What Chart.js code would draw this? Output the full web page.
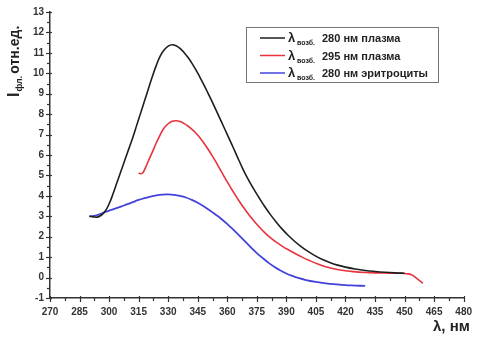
<!DOCTYPE html>
<html>
<head>
<meta charset="utf-8">
<script src="https://cdn.jsdelivr.net/npm/chart.js@4"></script>
<style>
  html, body { margin: 0; padding: 0; background: #fff; }
  #wrap { width: 480px; height: 337px; }
</style>
</head>
<body>
<div id="wrap"><canvas id="chart" width="480" height="337"></canvas></div>
<script>
// emission spectra, wavelength (nm) vs intensity (rel. units)
const seriesLabels = ['280 нм плазма', '295 нм плазма', '280 нм эритроциты'];
const seriesColors = ['#1e1e1e', '#e8323c', '#4343dc'];

const blackX = [290, 292, 294, 296, 298, 300, 302, 304, 306, 308, 310, 312, 314, 316, 318, 320, 322, 324, 326, 328, 330, 332, 334, 336, 338, 340, 342, 344, 346, 348, 350, 352, 354, 356, 358, 360, 362, 364, 366, 368, 370, 373, 376, 379, 382, 385, 388, 391, 394, 397, 400, 404, 408, 412, 416, 420, 425, 430, 435, 440, 445, 450];
const blackY = [3.0, 2.97, 2.96, 3.05, 3.25, 3.6, 4.1, 4.65, 5.2, 5.75, 6.3, 6.85, 7.45, 8.05, 8.65, 9.25, 9.85, 10.4, 10.85, 11.15, 11.33, 11.4, 11.35, 11.22, 11.02, 10.78, 10.5, 10.18, 9.83, 9.46, 9.07, 8.67, 8.26, 7.84, 7.42, 7.0, 6.58, 6.15, 5.72, 5.3, 4.92, 4.4, 3.93, 3.48, 3.07, 2.7, 2.36, 2.06, 1.79, 1.55, 1.34, 1.1, 0.9, 0.74, 0.61, 0.51, 0.42, 0.35, 0.3, 0.26, 0.23, 0.21];

const redX = [315, 316, 317, 318, 319, 320, 322, 324, 326, 328, 330, 332, 334, 336, 338, 340, 342, 344, 346, 348, 350, 352, 354, 356, 358, 360, 362, 364, 366, 368, 370, 373, 376, 379, 382, 385, 388, 391, 394, 398, 402, 406, 410, 414, 418, 424, 430, 436, 442, 448, 451, 453.5, 456, 459.3];
const redY = [5.12, 5.08, 5.12, 5.28, 5.5, 5.72, 6.15, 6.6, 7.0, 7.33, 7.53, 7.65, 7.68, 7.64, 7.55, 7.42, 7.26, 7.08, 6.86, 6.6, 6.32, 6.02, 5.7, 5.36, 5.02, 4.68, 4.36, 4.05, 3.75, 3.47, 3.2, 2.83, 2.5, 2.2, 1.94, 1.72, 1.53, 1.36, 1.2, 1.0, 0.82, 0.66, 0.53, 0.43, 0.36, 0.29, 0.25, 0.23, 0.22, 0.21, 0.19, 0.14, -0.03, -0.28];

const blueX = [290, 292, 294, 296, 298, 300, 303, 306, 309, 312, 315, 318, 321, 324, 327, 330, 333, 336, 339, 342, 345, 348, 351, 354, 357, 360, 363, 366, 369, 372, 375, 378, 381, 384, 387, 390, 393, 396, 400, 405, 410, 415, 420, 425, 430];
const blueY = [3.0, 3.02, 3.06, 3.13, 3.21, 3.28, 3.37, 3.47, 3.58, 3.69, 3.8, 3.89, 3.96, 4.02, 4.06, 4.07, 4.05, 4.0, 3.92, 3.8, 3.66, 3.49, 3.3, 3.09, 2.87, 2.62, 2.35, 2.07, 1.77, 1.48, 1.2, 0.95, 0.72, 0.52, 0.35, 0.2, 0.08, -0.02, -0.12, -0.21, -0.28, -0.33, -0.37, -0.39, -0.41];

const xMin = 270, xMax = 480, xStep = 15;
const yMin = -1, yMax = 13, yStep = 1;

const toPoints = (xs, ys) => xs.map((x, i) => ({ x: x, y: ys[i] }));

const FONT = '"Liberation Sans", Arial, sans-serif';
const axisColor = '#333';

// minor/major ticks, axis titles and legend with subscripts
const decorPlugin = {
    id: 'decor',
    afterDraw(chart) {
        const ctx = chart.ctx;
        const xs = chart.scales.x, ys = chart.scales.y;
        const area = chart.chartArea;
        ctx.save();
        ctx.strokeStyle = axisColor;
        ctx.lineWidth = 1.2;
        // x ticks
        for (let v = xMin; v <= xMax + 0.01; v += xStep / 2) {
            const px = Math.round(xs.getPixelForValue(v)) + 0.5;
            const major = Math.abs((v - xMin) % xStep) < 0.01;
            ctx.beginPath();
            ctx.moveTo(px, area.bottom - (major ? 2 : 0));
            ctx.lineTo(px, area.bottom + (major ? 4 : 3));
            ctx.stroke();
        }
        // y ticks
        for (let v = yMin; v <= yMax + 0.01; v += yStep / 2) {
            const py = Math.round(ys.getPixelForValue(v)) + 0.5;
            const major = Math.abs((v - yMin) % yStep) < 0.01;
            ctx.beginPath();
            ctx.moveTo(area.left + (major ? 2 : 0), py);
            ctx.lineTo(area.left - (major ? 4 : 3), py);
            ctx.stroke();
        }

        ctx.fillStyle = '#222';
        ctx.textBaseline = 'alphabetic';
        ctx.textAlign = 'left';

        // x title
        ctx.font = 'bold 15px ' + FONT;
        ctx.fillText('λ, нм', 433, 331);

        // y title, rotated
        ctx.save();
        ctx.translate(19, 97);
        ctx.rotate(-Math.PI / 2);
        let tx = 0;
        ctx.font = 'bold 16px ' + FONT;
        ctx.fillText('I', tx, 0);
        tx += ctx.measureText('I').width + 1;
        ctx.font = 'bold 9px ' + FONT;
        ctx.fillText('фл.', tx, 3);
        tx += ctx.measureText('фл.').width + 2;
        ctx.font = 'bold 14px ' + FONT;
        ctx.fillText('отн.ед.', tx, 0);
        ctx.restore();

        // legend
        const lx = 246.5, ly = 27.5, lw = 192, lh = 55;
        ctx.strokeStyle = '#777';
        ctx.lineWidth = 1;
        ctx.strokeRect(lx, ly, lw, lh);
        chart.data.datasets.forEach((ds, i) => {
            const y = 38 + i * 17.5;
            ctx.strokeStyle = ds.borderColor;
            ctx.lineWidth = 1.5;
            ctx.beginPath();
            ctx.moveTo(260, y);
            ctx.lineTo(285, y);
            ctx.stroke();
            ctx.fillStyle = '#222';
            ctx.font = 'bold 13px ' + FONT;
            ctx.fillText('λ', 288, y + 4);
            ctx.font = 'bold 7px ' + FONT;
            ctx.fillText('возб.', 297, y + 7);
            ctx.font = 'bold 11px ' + FONT;
            ctx.fillText(ds.label, 322, y + 4);
        });
        ctx.restore();
    }
};

new Chart(document.getElementById('chart'), {
    type: 'scatter',
    data: {
        datasets: [
            { label: seriesLabels[0], data: toPoints(blackX, blackY), borderColor: seriesColors[0], borderWidth: 1.6 },
            { label: seriesLabels[1], data: toPoints(redX, redY), borderColor: seriesColors[1], borderWidth: 1.6 },
            { label: seriesLabels[2], data: toPoints(blueX, blueY), borderColor: seriesColors[2], borderWidth: 1.8 }
        ].map(ds => Object.assign(ds, {
            showLine: true,
            pointRadius: 0,
            fill: false,
            tension: 0.4
        }))
    },
    options: {
        responsive: false,
        animation: false,
        layout: { padding: { top: 12, right: 14, left: 0, bottom: 0 } },
        plugins: {
            legend: { display: false },
            tooltip: { enabled: false }
        },
        scales: {
            x: {
                type: 'linear',
                min: xMin, max: xMax,
                afterFit: (scale) => { scale.height = 39; },
                ticks: { stepSize: xStep, padding: 8, color: axisColor, font: { family: FONT, size: 10, weight: 'bold' } },
                grid: { display: true, drawOnChartArea: false, drawTicks: false },
                border: { display: true, color: axisColor, width: 1.5 }
            },
            y: {
                min: yMin, max: yMax,
                afterFit: (scale) => { scale.width = 50; },
                ticks: { stepSize: yStep, padding: 6, color: axisColor, font: { family: FONT, size: 10, weight: 'bold' } },
                grid: { display: true, drawOnChartArea: false, drawTicks: false },
                border: { display: true, color: axisColor, width: 1.5 }
            }
        }
    },
    plugins: [decorPlugin]
});
</script>
</body>
</html>
